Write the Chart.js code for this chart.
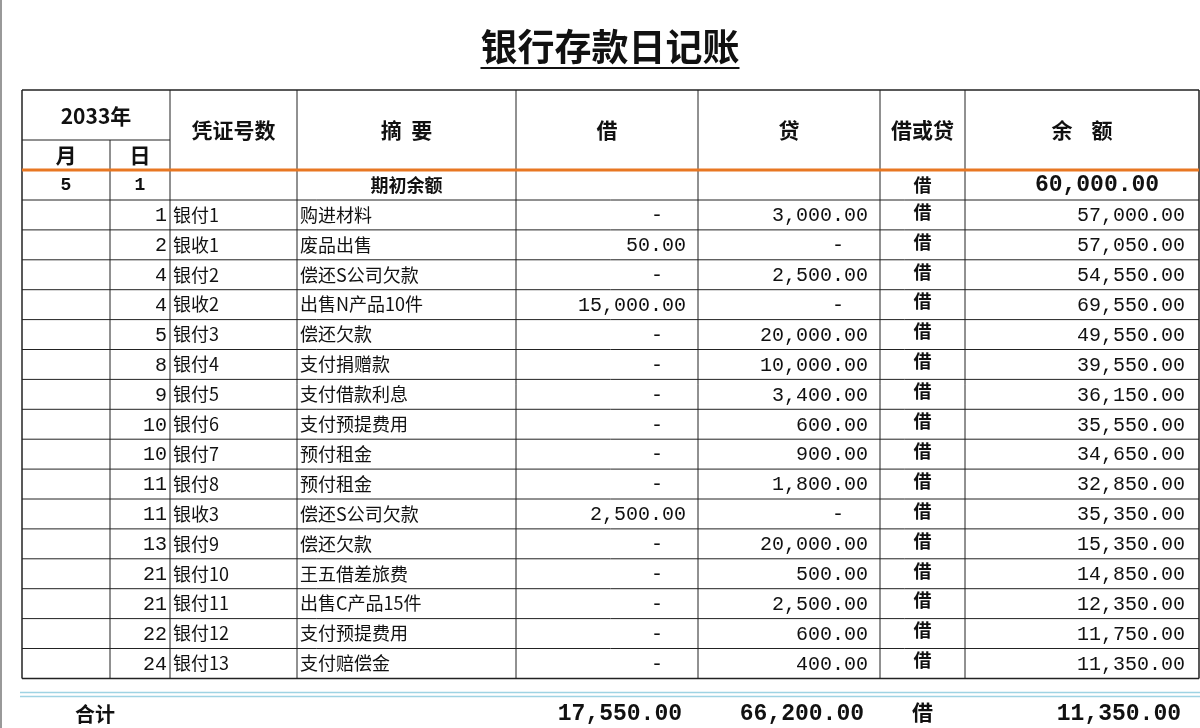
<!DOCTYPE html>
<html>
<head>
<meta charset="utf-8">
<script src="https://cdn.jsdelivr.net/npm/chart.js@4"></script>
<style>
  body { margin: 0; background: #fff; }
  #wrap { width: 1200px; height: 728px; position: relative; }
</style>
</head>
<body>
<div id="wrap"><canvas id="chart"></canvas></div>
<script>
// ledger data
const title = '银行存款日记账';
const year = '2033年';
const headers = ['凭证号数', '摘  要', '借', '贷', '借或贷', '余    额'];
const openMonth = '5';
const openDay = '1';
const openBalance = 60000;
const days = [1, 2, 4, 4, 5, 8, 9, 10, 10, 11, 11, 13, 21, 21, 22, 24];
const vouchers = ['银付1', '银收1', '银付2', '银收2', '银付3', '银付4', '银付5', '银付6', '银付7', '银付8', '银收3', '银付9', '银付10', '银付11', '银付12', '银付13'];
const summaries = ['购进材料', '废品出售', '偿还S公司欠款', '出售N产品10件', '偿还欠款', '支付捐赠款', '支付借款利息', '支付预提费用', '预付租金', '预付租金', '偿还S公司欠款', '偿还欠款', '王五借差旅费', '出售C产品15件', '支付预提费用', '支付赔偿金'];
const debits = [null, 50, null, 15000, null, null, null, null, null, null, 2500, null, null, null, null, null];
const credits = [3000, null, 2500, null, 20000, 10000, 3400, 600, 900, 1800, null, 20000, 500, 2500, 600, 400];
const balances = [57000, 57050, 54550, 69550, 49550, 39550, 36150, 35550, 34650, 32850, 35350, 15350, 14850, 12350, 11750, 11350];
const totalLabel = '合计';
const totalDebit = 17550;
const totalCredit = 66200;
const totalDir = '借';

// layout (page units, mapped through the chart scales)
const colX = [22, 110, 170, 297, 516, 698, 880, 965, 1199];
const headTop = 90, headMid = 140, headBottom = 170, openBottom = 200, rowH = 29.9;

const fmt = v => v.toLocaleString('en-US', { minimumFractionDigits: 2, maximumFractionDigits: 2 });
const CJK = '"Noto Sans CJK SC", sans-serif';
const MONO = '"Liberation Mono", "DejaVu Sans Mono", monospace';

const tablePlugin = {
  id: 'ledger',
  afterDraw(chart) {
    const ctx = chart.ctx;
    const xs = chart.scales.x, ys = chart.scales.y;
    const X = v => xs.getPixelForValue(v);
    const Y = v => ys.getPixelForValue(v);
    const line = (x1, y1, x2, y2, color, w) => {
      ctx.strokeStyle = color; ctx.lineWidth = w;
      ctx.beginPath(); ctx.moveTo(X(x1), Y(y1)); ctx.lineTo(X(x2), Y(y2)); ctx.stroke();
    };
    const text = (s, x, y, font, align) => {
      ctx.font = font; ctx.textAlign = align || 'center'; ctx.textBaseline = 'middle';
      ctx.fillStyle = '#111'; ctx.fillText(s, X(x), Y(y));
    };
    ctx.save();
    // page left edge
    line(1, 0, 1, 728, '#999', 2);
    // title
    text(title, 610, 47, 'bold 37px ' + CJK);
    ctx.font = 'bold 37px ' + CJK;
    const tw = ctx.measureText(title).width;
    ctx.strokeStyle = '#111'; ctx.lineWidth = 2;
    ctx.beginPath(); ctx.moveTo(X(610) - tw / 2, Y(68)); ctx.lineTo(X(610) + tw / 2, Y(68)); ctx.stroke();

    const nRows = days.length;
    const tableBottom = openBottom + nRows * rowH;
    // horizontal lines
    line(colX[0], headTop, colX[8], headTop, '#222', 1.5);
    line(colX[0], headMid, colX[2], headMid, '#222', 1);
    line(colX[0], openBottom, colX[8], openBottom, '#222', 1);
    for (let i = 1; i <= nRows; i++) {
      line(colX[0], openBottom + i * rowH, colX[8], openBottom + i * rowH, '#222', i === nRows ? 1.5 : 1);
    }
    // vertical lines
    colX.forEach((x, i) => {
      const top = i === 1 ? headMid : headTop;
      line(x, top, x, tableBottom, '#222', i === 0 || i === 8 ? 1.5 : 1);
    });
    line(colX[0], headBottom, colX[8], headBottom, '#e87722', 3);

    // headers
    const hf = 'bold 21px ' + CJK;
    text(year, (colX[0] + colX[2]) / 2, 116, hf);
    text('月', (colX[0] + colX[1]) / 2, 155, hf);
    text('日', (colX[1] + colX[2]) / 2, 155, hf);
    headers.forEach((h, i) => text(h, (colX[i + 2] + colX[i + 3]) / 2, 130, hf));

    // opening row
    const oy = (headBottom + openBottom) / 2;
    text(openMonth, (colX[0] + colX[1]) / 2, oy, 'bold 18px ' + MONO);
    text(openDay, (colX[1] + colX[2]) / 2, oy, 'bold 18px ' + MONO);
    text('期初余额', (colX[3] + colX[4]) / 2, oy, 'bold 18px ' + CJK);
    text('借', (colX[6] + colX[7]) / 2, oy, 'bold 18px ' + CJK);
    text(fmt(openBalance), (colX[7] + colX[8]) / 2 + 15, oy, 'bold 23px ' + MONO);

    // detail rows
    const nf = '20px ' + MONO, cf = '18px ' + CJK;
    days.forEach((d, i) => {
      const cy = openBottom + i * rowH + rowH / 2;
      text(String(d), colX[2] - 3, cy + 1, nf, 'right');
      text(vouchers[i], colX[2] + 3, cy, cf, 'left');
      text(summaries[i], colX[3] + 3, cy, cf, 'left');
      text(debits[i] == null ? '-' : fmt(debits[i]), debits[i] == null ? 657 : colX[5] - 12, cy + 1, nf, debits[i] == null ? 'center' : 'right');
      text(credits[i] == null ? '-' : fmt(credits[i]), credits[i] == null ? 838 : colX[6] - 12, cy + 1, nf, credits[i] == null ? 'center' : 'right');
      text('借', (colX[6] + colX[7]) / 2, cy - 3, 'bold 18px ' + CJK);
      text(fmt(balances[i]), colX[8] - 14, cy + 1, nf, 'right');
    });

    // totals
    line(20, tableBottom + 14, 1200, tableBottom + 14, '#9fd3e3', 1.5);
    line(20, tableBottom + 18, 1200, tableBottom + 18, '#9fd3e3', 1.5);
    const ty = 714;
    text(totalLabel, 95, ty, 'bold 20px ' + CJK);
    text(fmt(totalDebit), colX[5] - 16, ty, 'bold 23px ' + MONO, 'right');
    text(fmt(totalCredit), colX[6] - 16, ty, 'bold 23px ' + MONO, 'right');
    text(totalDir, (colX[6] + colX[7]) / 2, ty - 2, 'bold 21px ' + CJK);
    text(fmt(balances[balances.length - 1]), colX[8] - 18, ty, 'bold 23px ' + MONO, 'right');
    ctx.restore();
  }
};

new Chart(document.getElementById('chart'), {
  type: 'scatter',
  data: { datasets: [{ data: [], pointRadius: 0 }] },
  options: {
    responsive: true,
    maintainAspectRatio: false,
    animation: false,
    layout: { padding: 0 },
    plugins: { legend: { display: false }, tooltip: { enabled: false } },
    scales: {
      x: { type: 'linear', min: 0, max: 1200, display: false },
      y: { type: 'linear', min: 0, max: 728, reverse: true, display: false }
    }
  },
  plugins: [tablePlugin]
});
</script>
</body>
</html>
